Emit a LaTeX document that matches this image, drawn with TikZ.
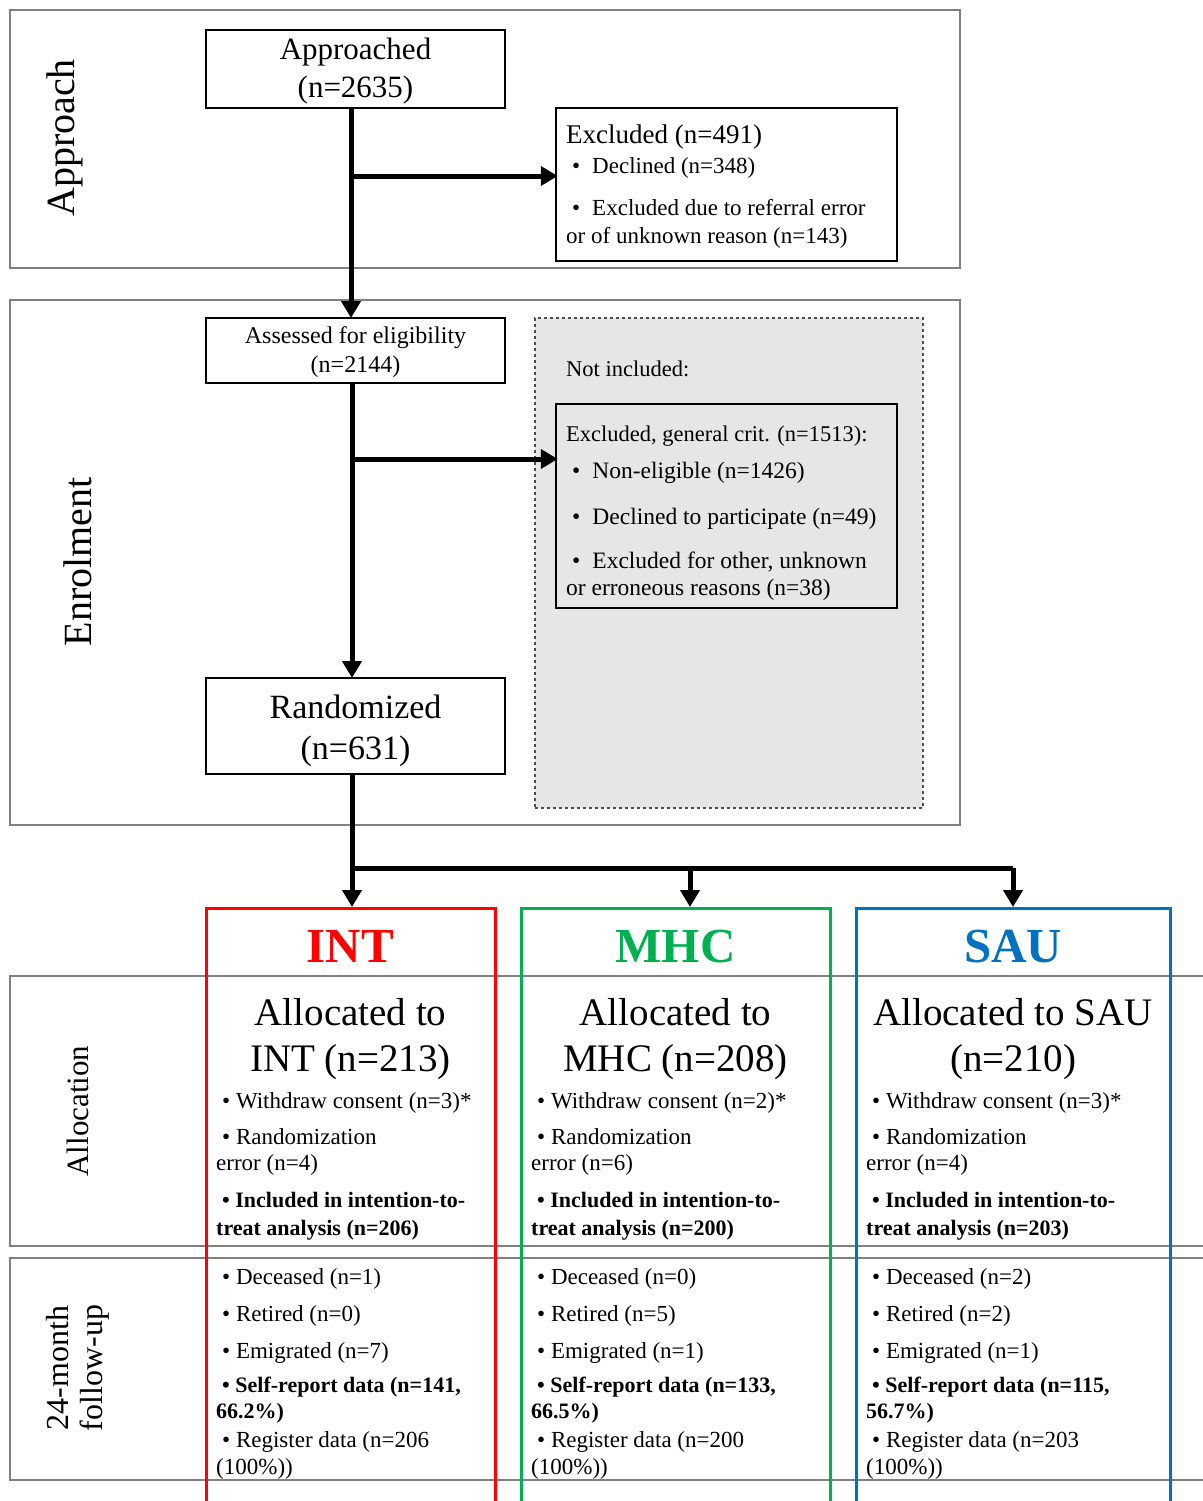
\documentclass[tikz,border=0pt]{standalone}
\usepackage{fontspec}
\setmainfont{Liberation Serif}
\usetikzlibrary{arrows.meta}
\definecolor{intred}{RGB}{255,0,0}
\definecolor{mhcgreen}{RGB}{0,176,80}
\definecolor{saublue}{RGB}{0,112,192}
\definecolor{secgray}{RGB}{128,128,128}
\definecolor{nifill}{RGB}{230,230,230}
\newcommand\myfs[1]{\fontsize{#1}{#1}\selectfont}
\begin{document}
\begin{tikzpicture}[x=1pt,y=-1pt,
  box/.style={draw=black,line width=2.5pt,rectangle,inner sep=0},
  sec/.style={draw=secgray,line width=1.5pt},
  arr/.style={line width=5pt,-{Triangle[width=19pt,length=17pt]}},
  lnk/.style={line width=5pt},
  tl/.style={inner sep=0,anchor=base west},
  tc/.style={inner sep=0,anchor=base},
  grp/.style={line width=3pt},
  seclab/.style={rotate=90,inner sep=0,align=center},
  rg/.style={tl,font=\myfs{23}},
  bd/.style={tl,font=\bfseries\myfs{22}}
]
\useasboundingbox (0,0) rectangle (1202,1501);
\fill[white] (0,0) rectangle (1202,1501);

% section frames
\draw[sec] (10,10) rectangle (960,268);
\draw[sec] (10,300) rectangle (960,825);
\draw[sec] (1210,976) -- (10,976) -- (10,1246) -- (1210,1246);
\draw[sec] (1210,1258) -- (10,1258) -- (10,1480) -- (1210,1480);

% section labels
\node[seclab,font=\myfs{40}] (lapp) at (65,138) {Approach};
\node[seclab,font=\myfs{40}] (lenr) at (78,562) {Enrolment};
\node[seclab,font=\myfs{31}] (lall) at (78,1111) {Allocation};
\node[seclab,font=\fontsize{32}{34}\selectfont] (lfu) at (78,1368) {24-month\\follow-up};

% approach
\node[box,minimum width=299pt,minimum height=78pt] (appr) at (355.5,69) {};
\node[tc,font=\myfs{31}] (apprt1) at (355.5,60) {Approached};
\node[tc,font=\myfs{31}] (apprt2) at (355.5,98) {(n=2635)};

\node[box,minimum width=341pt,minimum height=153pt] (excl) at (726.5,184.5) {};
\node[tl,font=\myfs{27}] (exclt1) at (566,143) {Excluded (n=491)};
\node[tl,font=\myfs{23}] (exclt2) at (572,173) {•\hspace{12pt}Declined (n=348)};
\node[tl,font=\myfs{23}] (exclt3) at (572,215) {•\hspace{12pt}Excluded due to referral error};
\node[tl,font=\myfs{23}] (exclt4) at (566,243) {or of unknown reason (n=143)};

% enrolment
\node[box,minimum width=299pt,minimum height=65pt] (assess) at (355.5,350.5) {};
\node[tc,font=\myfs{24}] (assesst1) at (355.5,343) {Assessed for eligibility};
\node[tc,font=\myfs{24}] (assesst2) at (355.5,372) {(n=2144)};

\node[draw=black!70,dashed,fill=nifill,line width=1.2pt,rectangle,inner sep=0,
      minimum width=388pt,minimum height=490pt] (notinc) at (729,563) {};
\node[tl,font=\myfs{22.5}] (notinct) at (566,376) {Not included:};

\node[box,minimum width=341pt,minimum height=204pt] (exgen) at (726.5,506) {};
\node[tl,font=\myfs{22.5}] (exgent1) at (566,441) {Excluded, general crit. (n=1513):};
\node[tl,font=\myfs{23.5}] (exgent2) at (572,478) {•\hspace{12pt}Non-eligible (n=1426)};
\node[tl,font=\myfs{23.5}] (exgent3) at (572,524) {•\hspace{12pt}Declined to participate (n=49)};
\node[tl,font=\myfs{23.5}] (exgent4) at (572,568) {•\hspace{12pt}Excluded for other, unknown};
\node[tl,font=\myfs{23.5}] (exgent5) at (566,595) {or erroneous reasons (n=38)};

\node[box,minimum width=299pt,minimum height=96pt] (rand) at (355.5,726) {};
\node[tc,font=\myfs{34}] (randt1) at (355.5,718) {Randomized};
\node[tc,font=\myfs{34}] (randt2) at (355.5,759) {(n=631)};

% connectors
\coordinate (b1) at (351,176);
\coordinate (a1) at (351,108);
\coordinate (a2) at (351,318);
\draw[lnk] (a1) -- (b1);
\draw[arr] (b1) -- (a2);
\draw[arr] (b1) -- ([xshift=3pt]b1 -| excl.west);

\coordinate (c1) at (352,383);
\coordinate (b2) at (352,459);
\coordinate (c2) at (352,678);
\draw[lnk] (c1) -- (b2);
\draw[arr] (b2) -- (c2);
\draw[arr] (b2) -- ([xshift=3pt]b2 -| exgen.west);

% groups
\node[draw=intred,grp,rectangle,inner sep=0,minimum width=289pt,minimum height=600pt,anchor=north] (intbox) at (350.5,907) {};
\node[draw=mhcgreen,grp,rectangle,inner sep=0,minimum width=309pt,minimum height=600pt,anchor=north] (mhcbox) at (675.5,907) {};
\node[draw=saublue,grp,rectangle,inner sep=0,minimum width=314pt,minimum height=600pt,anchor=north] (saubox) at (1013,907) {};

\coordinate (d1) at (352,774);
\coordinate (j1) at (352,868);
\coordinate (j2) at (690,868);
\coordinate (j3) at (1013,868);
\draw[lnk] (d1) -- (j1);
\draw[arr] (j1) -- (j1 |- intbox.north);
\draw[lnk] (j1) -- (j3);
\draw[arr] (j2) -- (j2 |- mhcbox.north);
\draw[arr] (j3) -- (j3 |- saubox.north);

% INT column
\node[tc,font=\bfseries\myfs{49},text=intred] (intt) at (350.5,962) {INT};
\node[tc,font=\myfs{39}] (inta1) at (350.5,1025) {Allocated to};
\node[tc,font=\myfs{39}] (inta2) at (350.5,1071) {INT (n=213)};
\node[rg] (inti1) at (222,1108) {• Withdraw consent (n=3)*};
\node[rg] (inti2) at (222,1144) {• Randomization};
\node[rg] (inti3) at (216,1170) {error (n=4)};
\node[bd] (inti4) at (222,1207) {• Included in intention-to-};
\node[bd] (inti5) at (216,1235) {treat analysis (n=206)};
\node[rg] (intf1) at (222,1284) {• Deceased (n=1)};
\node[rg] (intf2) at (222,1321) {• Retired (n=0)};
\node[rg] (intf3) at (222,1358) {• Emigrated (n=7)};
\node[bd] (intf4) at (222,1392) {• Self-report data (n=141,};
\node[bd] (intf5) at (216,1418) {66.2\%)};
\node[rg] (intf6) at (222,1447) {• Register data (n=206};
\node[rg] (intf7) at (216,1474) {(100\%))};

% MHC column
\node[tc,font=\bfseries\myfs{49},text=mhcgreen] (mhct) at (675.5,962) {MHC};
\node[tc,font=\myfs{39}] (mhca1) at (675.5,1025) {Allocated to};
\node[tc,font=\myfs{39}] (mhca2) at (675.5,1071) {MHC (n=208)};
\node[rg] (mhci1) at (537,1108) {• Withdraw consent (n=2)*};
\node[rg] (mhci2) at (537,1144) {• Randomization};
\node[rg] (mhci3) at (531,1170) {error (n=6)};
\node[bd] (mhci4) at (537,1207) {• Included in intention-to-};
\node[bd] (mhci5) at (531,1235) {treat analysis (n=200)};
\node[rg] (mhcf1) at (537,1284) {• Deceased (n=0)};
\node[rg] (mhcf2) at (537,1321) {• Retired (n=5)};
\node[rg] (mhcf3) at (537,1358) {• Emigrated (n=1)};
\node[bd] (mhcf4) at (537,1392) {• Self-report data (n=133,};
\node[bd] (mhcf5) at (531,1418) {66.5\%)};
\node[rg] (mhcf6) at (537,1447) {• Register data (n=200};
\node[rg] (mhcf7) at (531,1474) {(100\%))};

% SAU column
\node[tc,font=\bfseries\myfs{49},text=saublue] (saut) at (1013,962) {SAU};
\node[tc,font=\myfs{39}] (saua1) at (1013,1025) {Allocated to SAU};
\node[tc,font=\myfs{39}] (saua2) at (1013,1071) {(n=210)};
\node[rg] (saui1) at (872,1108) {• Withdraw consent (n=3)*};
\node[rg] (saui2) at (872,1144) {• Randomization};
\node[rg] (saui3) at (866,1170) {error (n=4)};
\node[bd] (saui4) at (872,1207) {• Included in intention-to-};
\node[bd] (saui5) at (866,1235) {treat analysis (n=203)};
\node[rg] (sauf1) at (872,1284) {• Deceased (n=2)};
\node[rg] (sauf2) at (872,1321) {• Retired (n=2)};
\node[rg] (sauf3) at (872,1358) {• Emigrated (n=1)};
\node[bd] (sauf4) at (872,1392) {• Self-report data (n=115,};
\node[bd] (sauf5) at (866,1418) {56.7\%)};
\node[rg] (sauf6) at (872,1447) {• Register data (n=203};
\node[rg] (sauf7) at (866,1474) {(100\%))};
\end{tikzpicture}
\end{document}
